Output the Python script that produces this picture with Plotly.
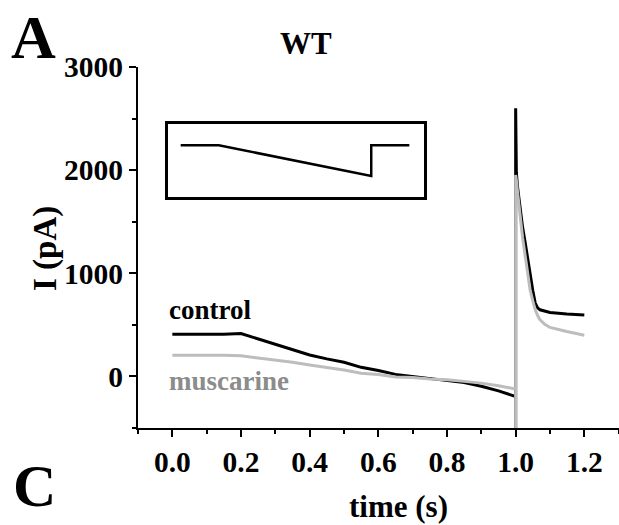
import plotly.graph_objects as go

# ---- data ----
t_ramp = [0.00, 0.05, 0.10, 0.15, 0.20, 0.25, 0.30, 0.35, 0.40, 0.45, 0.50,
          0.55, 0.60, 0.65, 0.70, 0.75, 0.80, 0.85, 0.90, 0.95, 1.00]
control_ramp = [410, 408, 410, 410, 415, 362, 312, 255, 208, 170, 138,
                88, 58, 20, 0, -25, -38, -60, -95, -140, -195]
muscarine_ramp = [205, 205, 208, 205, 200, 180, 160, 137, 110, 85, 63,
                  30, 18, -5, -10, -25, -32, -48, -65, -90, -122]

# transient at the step back (t = 1.0 s)
t_step = [1.0, 1.0]
control_step = [-500, 2600]
muscarine_step = [-500, 1954]

t_tail = [1.002, 1.005, 1.013, 1.020, 1.028, 1.035, 1.042, 1.050, 1.057,
          1.064, 1.071, 1.085, 1.100, 1.149, 1.200]
control_tail = [1980, 1850, 1615, 1450, 1292, 1130, 969, 830, 711,
                665, 646, 630, 620, 605, 595]
muscarine_tail = [1900, 1800, 1550, 1350, 1163, 1000, 840, 730, 646,
                  590, 549, 505, 475, 436, 400]

# voltage protocol (inset)
t_protocol = [0.0, 0.2, 1.0, 1.0, 1.2]
v_protocol = [-20, -20, -120, -20, -20]

x_ticks = [0.0, 0.2, 0.4, 0.6, 0.8, 1.0, 1.2]
x_ticklabels = ["0.0", "0.2", "0.4", "0.6", "0.8", "1.0", "1.2"]
y_ticks = [0, 1000, 2000, 3000]
y_ticklabels = ["0", "1000", "2000", "3000"]

FONT = "Liberation Serif, Times New Roman, serif"

fig = go.Figure()

fig.add_trace(go.Scatter(
    x=t_ramp + t_step + t_tail,
    y=control_ramp + control_step + control_tail,
    mode="lines", line=dict(color="black", width=3), name="control",
    showlegend=False))
fig.add_trace(go.Scatter(
    x=t_ramp + t_step + t_tail,
    y=muscarine_ramp + muscarine_step + muscarine_tail,
    mode="lines", line=dict(color="#bdbdbd", width=3), name="muscarine",
    showlegend=False))

# inset protocol
fig.add_trace(go.Scatter(
    x=t_protocol, y=v_protocol, xaxis="x2", yaxis="y2",
    mode="lines", line=dict(color="black", width=2.5), showlegend=False))

axis_common = dict(showline=True, linecolor="black", linewidth=2,
                   showgrid=False, zeroline=False, ticks="outside",
                   ticklen=7, tickwidth=2, tickcolor="black",
                   tickfont=dict(family=FONT, size=29.5, color="black", weight="bold"))

fig.update_layout(
    width=619, height=525,
    margin=dict(l=138, r=0, t=67, b=97),
    paper_bgcolor="white", plot_bgcolor="white",
    xaxis=dict(range=[-0.1, 1.301], tickvals=x_ticks, ticktext=x_ticklabels,
               minor=dict(dtick=0.1, tick0=0, ticks="outside", ticklen=4,
                          tickwidth=2, tickcolor="black"),
               **axis_common),
    yaxis=dict(range=[-500, 3000], tickvals=y_ticks, ticktext=y_ticklabels,
               minor=dict(dtick=500, tick0=0, ticks="outside", ticklen=4,
                          tickwidth=2, tickcolor="black"),
               **axis_common),
    xaxis2=dict(domain=[0.063, 0.5946], range=[-0.065, 1.277], anchor="y2",
                showline=True, mirror=True, linecolor="black", linewidth=2.5,
                showgrid=False, zeroline=False, showticklabels=False, ticks=""),
    yaxis2=dict(domain=[0.639, 0.842], range=[-189, 49], anchor="x2",
                showline=True, mirror=True, linecolor="black", linewidth=2.5,
                showgrid=False, zeroline=False, showticklabels=False, ticks=""),
)

def txt(text, x, y, size, color="black", angle=0):
    fig.add_annotation(text=text, x=x, y=y, xref="paper", yref="paper",
                       showarrow=False, textangle=angle,
                       font=dict(family=FONT, size=size, color=color, weight="bold"),
                       xanchor="center", yanchor="middle")

W = 481.0
H = 361.0
def px(xp):
    return (xp - 138) / W
def py(yp):
    return (428 - yp) / H

txt("WT", px(306), py(44), 31)
txt("time (s)", px(398), py(507), 31)
txt("I (pA)", px(45), py(249), 33, angle=-90)
txt("A", px(33), py(37), 62)
txt("C", px(34), py(486), 60)

fig.add_annotation(text="control", x=-0.016, y=640, xref="x", yref="y",
                   showarrow=False, xanchor="left", yanchor="middle",
                   font=dict(family=FONT, size=27, color="black", weight="bold"))
fig.add_annotation(text="muscarine", x=-0.016, y=-45, xref="x", yref="y",
                   showarrow=False, xanchor="left", yanchor="middle",
                   font=dict(family=FONT, size=27, color="#8c8c8c", weight="bold"))

fig.write_html("out.html",
               config={"displayModeBar": False},
               post_script="document.body.style.margin='0';"
                           "document.body.style.overflow='hidden';")
